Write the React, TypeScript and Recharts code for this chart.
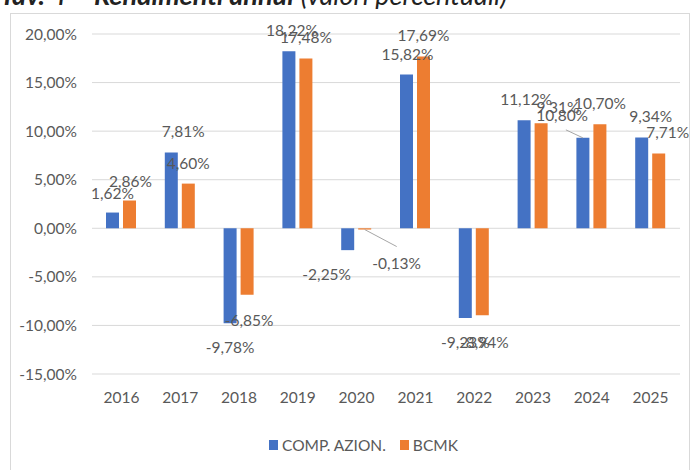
import { BarChart, Bar, XAxis, YAxis, CartesianGrid, Legend, LabelList } from 'recharts';

// Rendimenti annui (%)
const years = ['2016', '2017', '2018', '2019', '2020', '2021', '2022', '2023', '2024', '2025'];
const compAzion = [1.62, 7.81, -9.78, 18.22, -2.25, 15.82, -9.23, 11.12, 9.31, 9.34];
const bcmk = [2.86, 4.6, -6.85, 17.48, -0.13, 17.69, -8.94, 10.8, 10.7, 7.71];
const yTicks = [-15, -10, -5, 0, 5, 10, 15, 20];

const data = years.map((anno, i) => ({ anno, comp: compAzion[i], bcmk: bcmk[i] }));

const FONT = 'Lato, "Liberation Sans", sans-serif';
const FS = 15.5;
const TEXT = '#595959';
const BLUE = '#4472C4';
const ORANGE = '#ED7D31';

// spostamenti delle etichette (come nel grafico Excel originale)
const compShift: [number, number][] = [[0, 1], [12, 0], [0, 0], [3, 0], [-21, 0], [1, 0], [0, 0], [2, 0], [-25, -10], [9, -1]];
const bcmkShift: [number, number][] = [[1, 1], [0, 0], [2, 1], [0, 0], [32, 9], [0, 0], [2, 3], [21, 13], [0, 0], [9, 0]];

// linee guida: indice -> punto di arrivo relativo al centro dell'etichetta
const compLeaders: Record<number, [number, number]> = { 8: [8, 23] };
const bcmkLeaders: Record<number, [number, number]> = { 4: [0, -16] };

const fmt = (v: number) => `${v.toFixed(2).replace('.', ',')}%`;

function makeLabel(shift: [number, number][], leaders: Record<number, [number, number]>) {
  return (props: any) => {
    const { x, y, width, height, value, index } = props;
    const v = Number(value);
    const cx = Number(x) + Number(width) / 2;
    const y1 = Number(y);
    const y2 = Number(y) + Number(height);
    const end = v >= 0 ? Math.min(y1, y2) : Math.max(y1, y2);
    const [dx, dy] = shift[index] || [0, 0];
    const lx = cx + dx;
    const ly = end + (v >= 0 ? -21 : 24) + dy;
    const leader = leaders[index];
    return (
      <g>
        {leader && (
          <line x1={cx} y1={end} x2={lx + leader[0]} y2={ly + leader[1]} stroke="#a6a6a6" strokeWidth={1} />
        )}
        <text x={lx} y={ly} textAnchor="middle" dominantBaseline="central" fill={TEXT} fontSize={FS} fontFamily={FONT}>
          {fmt(v)}
        </text>
      </g>
    );
  };
}

function LegendContent() {
  const items = [
    { name: 'COMP. AZION.', color: BLUE },
    { name: 'BCMK', color: ORANGE },
  ];
  return (
    <div style={{ display: 'flex', alignItems: 'center', fontFamily: FONT, fontSize: FS, color: TEXT }}>
      {items.map((it) => (
        <div key={it.name} style={{ display: 'flex', alignItems: 'center', marginRight: 14 }}>
          <span style={{ width: 9, height: 10, background: it.color, marginRight: 4, display: 'inline-block' }} />
          <span>{it.name}</span>
        </div>
      ))}
    </div>
  );
}

export default function App() {
  return (
    <div style={{ position: 'absolute', left: 0, top: 0, width: 694, height: 470, overflow: 'hidden', background: '#fff' }}>
      <div style={{ position: 'absolute', left: 0, top: 0, width: 694, height: 9, overflow: 'hidden' }}>
        <div
          style={{
            position: 'absolute',
            left: 0,
            top: -19,
            whiteSpace: 'nowrap',
            fontFamily: FONT,
            fontSize: 27,
            lineHeight: '27px',
            color: '#222',
          }}
        >
          <b><i>Tav. 4 – Rendimenti annui</i></b> <i>(valori percentuali)</i>
        </div>
      </div>
      <div
        style={{
          position: 'absolute',
          left: 10,
          top: 13,
          width: 678,
          height: 470,
          border: '1px solid #d9d9d9',
        }}
      />
      <div style={{ position: 'absolute', left: 0, top: 0 }}>
        <BarChart
          width={694}
          height={470}
          data={data}
          margin={{ top: 34, right: 14, left: 12, bottom: 66 }}
          barGap={4}
        >
          <CartesianGrid vertical={false} stroke="#d9d9d9" />
          <XAxis
            dataKey="anno"
            axisLine={false}
            tickLine={false}
            tickSize={0}
            tickMargin={18}
            height={30}
            tick={{ fill: TEXT, fontSize: FS, fontFamily: FONT }}
          />
          <YAxis
            domain={[-15, 20]}
            ticks={yTicks}
            interval={0}
            width={80}
            axisLine={false}
            tickLine={false}
            tickSize={0}
            tickMargin={15}
            tickFormatter={fmt}
            tick={{ fill: TEXT, fontSize: FS, fontFamily: FONT }}
          />
          <Legend
            layout="horizontal"
            verticalAlign="middle"
            align="center"
            wrapperStyle={{ top: 436, left: 269, width: 300 }}
            content={() => <LegendContent />}
          />
          <Bar dataKey="comp" name="COMP. AZION." fill={BLUE} barSize={13} isAnimationActive={false}>
            <LabelList dataKey="comp" content={makeLabel(compShift, compLeaders)} />
          </Bar>
          <Bar dataKey="bcmk" name="BCMK" fill={ORANGE} barSize={13} isAnimationActive={false}>
            <LabelList dataKey="bcmk" content={makeLabel(bcmkShift, bcmkLeaders)} />
          </Bar>
        </BarChart>
      </div>
    </div>
  );
}
